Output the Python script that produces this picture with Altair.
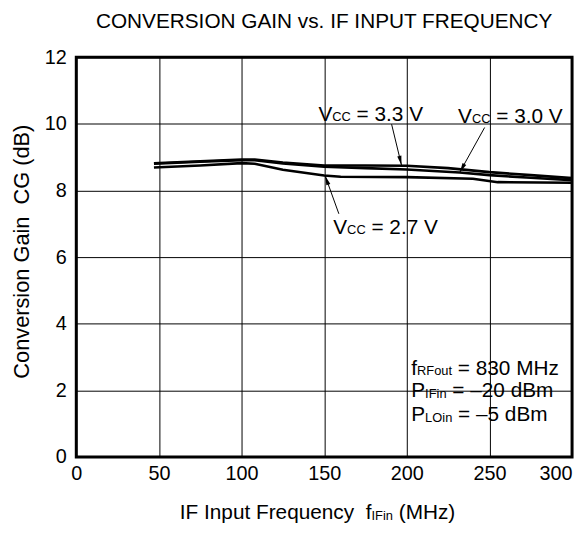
import math
import altair as alt
import pandas as pd

# ---------------- data ----------------
freq_33 = [47, 75, 100, 108, 125, 150, 175, 200, 225, 250, 275, 300]
gain_33 = [8.82, 8.88, 8.93, 8.93, 8.84, 8.75, 8.75, 8.74, 8.67, 8.55, 8.46, 8.37]
freq_30 = [47, 75, 100, 108, 125, 150, 175, 200, 232, 250, 275, 300]
gain_30 = [8.80, 8.86, 8.91, 8.91, 8.81, 8.71, 8.67, 8.63, 8.54, 8.46, 8.38, 8.31]
freq_27 = [47, 75, 100, 108, 125, 150, 160, 200, 240, 255, 300]
gain_27 = [8.69, 8.75, 8.82, 8.80, 8.62, 8.45, 8.41, 8.40, 8.35, 8.25, 8.23]
series = ["3.3 V", "3.0 V", "2.7 V"]

x_ticks = [0, 50, 100, 150, 200, 250, 300]
y_ticks = [0, 2, 4, 6, 8, 10, 12]

title_text = "CONVERSION GAIN vs. IF INPUT FREQUENCY"
y_title = "Conversion Gain\u00a0 CG (dB)"

# annotation arrows (data units): start -> tip
arrow_x1 = [190.8, 247.1, 158.9]
arrow_y1 = [9.99, 9.89, 7.30]
arrow_x2 = [196.8, 232.1, 150.6]
arrow_y2 = [8.76, 8.55, 8.44]

# ---------------- layout / style ----------------
W, H = 501, 404
FONT = "Liberation Sans"
MAIN = 21
SUB = 13

AW = {' ': 278, '\u00a0': 278, '=': 584, '.': 278, '\u2013': 556, '(': 333, ')': 333,
      'V': 667, 'C': 722, 'f': 278, 'R': 722, 'F': 611, 'o': 556, 'u': 556, 't': 278,
      'M': 833, 'H': 722, 'z': 500, 'P': 667, 'I': 278, 'n': 556, 'i': 222, 'd': 556,
      'B': 667, 'm': 833, 'L': 556, 'O': 778, 'p': 556, 'r': 333, 'e': 556, 'q': 556,
      'c': 500, 'y': 500}


def tw(s, size):
    return sum(AW.get(ch, 556) for ch in s) * size / 1000.0


def rich(parts, x_enc, y_enc, center=False):
    total = sum(tw(t, s) for t, s, _ in parts)
    off = -total / 2.0 if center else 0.0
    out = []
    for t, s, dy in parts:
        lead = len(t) - len(t.lstrip(" "))
        off += tw(" " * lead, s)
        body = t.lstrip(" ")
        out.append(
            alt.Chart(pd.DataFrame({"t": [body]}))
            .mark_text(align="left", baseline="alphabetic", dx=off, dy=dy,
                       fontSize=s, font=FONT, color="black")
            .encode(x=x_enc, y=y_enc, text="t:N")
        )
        off += tw(body, s)
    return out


# ---------------- curves ----------------
df = pd.concat([
    pd.DataFrame({"freq": freq_33, "gain": gain_33, "s": series[0]}),
    pd.DataFrame({"freq": freq_30, "gain": gain_30, "s": series[1]}),
    pd.DataFrame({"freq": freq_27, "gain": gain_27, "s": series[2]}),
])

x_axis = alt.Axis(
    values=x_ticks, grid=True, gridColor="black", gridWidth=1, ticks=False, domain=False,
    labelFont=FONT, labelFontSize=20, labelColor="black", labelPadding=7,
    labelAlign=alt.condition("datum.value == 300", alt.value("right"), alt.value("center")),
    title=None,
)
y_axis = alt.Axis(
    values=y_ticks, grid=True, gridColor="black", gridWidth=1, ticks=False, domain=False,
    labelFont=FONT, labelFontSize=20, labelColor="black", labelPadding=10,
    title=y_title, titleFont=FONT, titleFontSize=22, titleFontWeight="normal",
    titleColor="black", titleAngle=270, titleX=-48, titleY=196,
    titleAlign="center", titleBaseline="alphabetic",
)

lines = alt.Chart(df).mark_line(color="black", strokeWidth=2.6).encode(
    x=alt.X("freq:Q", scale=alt.Scale(domain=[0, 300], nice=False, zero=False), axis=x_axis),
    y=alt.Y("gain:Q", scale=alt.Scale(domain=[0, 12], nice=False), axis=y_axis),
    detail="s:N",
)

# ---------------- arrows ----------------
px_x, px_y = W / 300.0, H / 12.0
HEAD = 90
half = math.sqrt(HEAD) / 2.0
hx, hy, ang = [], [], []
for x1, y1, x2, y2 in zip(arrow_x1, arrow_y1, arrow_x2, arrow_y2):
    dxs = (x2 - x1) * px_x
    dys = -(y2 - y1) * px_y
    L = math.hypot(dxs, dys)
    ux, uy = dxs / L, dys / L
    hx.append(x2 - ux * half / px_x)
    hy.append(y2 + uy * half / px_y)
    ang.append(math.degrees(math.atan2(ux, -uy)) % 360)

df_arr = pd.DataFrame({"x1": arrow_x1, "y1": arrow_y1, "x2": arrow_x2, "y2": arrow_y2})
rules = alt.Chart(df_arr).mark_rule(color="black", strokeWidth=1).encode(
    x="x1:Q", y="y1:Q", x2="x2:Q", y2="y2:Q")
heads = alt.Chart(pd.DataFrame({"x": hx, "y": hy, "a": ang})).mark_point(
    shape="M0,-1L0.45,1L-0.45,1Z", filled=True, color="black", opacity=1, size=HEAD, strokeWidth=0
).encode(x="x:Q", y="y:Q", angle=alt.Angle("a:Q", scale=None))

# ---------------- texts ----------------
texts = []
title = alt.Chart(pd.DataFrame({"t": [title_text]})).mark_text(
    align="center", baseline="alphabetic", fontSize=21, font=FONT, color="black"
).encode(x=alt.datum(150), y=alt.value(-30), text="t:N")
texts.append(title)

texts += rich([("V", MAIN, 0), ("CC", SUB, 0.5), (" = 3.3 V", MAIN, 0)], alt.datum(146.5), alt.datum(10.09))
texts += rich([("V", MAIN, 0), ("CC", SUB, 0.5), (" = 3.0 V", MAIN, 0)], alt.datum(231.0), alt.datum(10.04))
texts += rich([("V", MAIN, 0), ("CC", SUB, 0.5), (" = 2.7 V", MAIN, 0)], alt.datum(155.5), alt.datum(6.70))

texts += rich([("f", MAIN, 0), ("RFout", SUB, 0.5), (" = 830 MHz", MAIN, 0)], alt.datum(202.7), alt.datum(2.47))
texts += rich([("P", MAIN, 0), ("IFin", SUB, 0.5), (" = \u201320 dBm", MAIN, 0)], alt.datum(202.7), alt.datum(1.80))
texts += rich([("P", MAIN, 0), ("LOin", SUB, 0.5), (" = \u20135 dBm", MAIN, 0)], alt.datum(202.7), alt.datum(1.08))

texts += rich([("IF Input Frequency\u00a0 f", MAIN, 0), ("IFin", SUB, 0.5), (" (MHz)", MAIN, 0)],
              alt.datum(146), alt.value(H + 63), center=True)

chart = alt.layer(lines, rules, heads, *texts).properties(
    width=W, height=H,
    padding={"left": 69, "top": 47, "right": 5, "bottom": 68},
    autosize=alt.AutoSizeParams(type="none"),
    background="white",
).configure_view(stroke="black", strokeWidth=3)

chart.save("out.html", embed_options={"renderer": "svg", "actions": False})
